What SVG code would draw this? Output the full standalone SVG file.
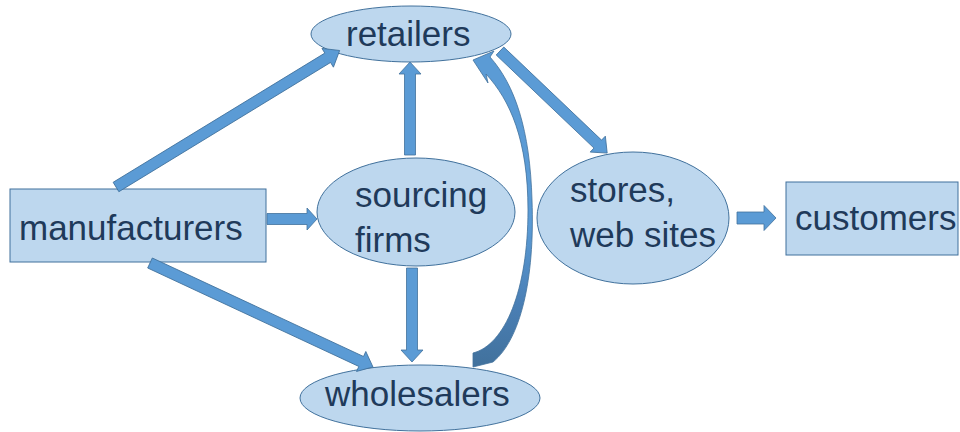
<svg xmlns="http://www.w3.org/2000/svg" width="960" height="432" viewBox="0 0 960 432">
<style>
.node{fill:#BDD7EE;stroke:#41719C;stroke-width:1}
.lbl{font-family:"Liberation Sans",Arial,sans-serif;font-size:35px;fill:#1F3A5A}
.arr{fill:#5B9BD5;stroke:#41719C;stroke-width:0.8}
</style>
<defs>
<linearGradient id="cg" x1="0" y1="0" x2="0" y2="1">
<stop offset="0" stop-color="#5B9BD5"/>
<stop offset="0.55" stop-color="#5B9BD5"/>
<stop offset="0.8" stop-color="#4A7FB5"/>
<stop offset="1" stop-color="#41719C"/>
</linearGradient>
</defs>
<rect width="960" height="432" fill="#FFFFFF"/>
<g id="retailers">
<ellipse class="node" cx="411" cy="34" rx="100" ry="28"/>
<text class="lbl" x="346" y="46">retailers</text>
</g>
<g id="sourcing">
<ellipse class="node" cx="416" cy="212" rx="99" ry="54"/>
<text class="lbl" x="355" y="207">sourcing</text>
<text class="lbl" x="355" y="252">firms</text>
</g>
<g id="wholesalers">
<ellipse class="node" cx="420" cy="398" rx="120" ry="33"/>
<text class="lbl" x="325" y="406">wholesalers</text>
</g>
<g id="stores">
<ellipse class="node" cx="633" cy="218" rx="96" ry="66"/>
<text class="lbl" x="570" y="202">stores,</text>
<text class="lbl" x="570" y="247">web sites</text>
</g>
<g id="manufacturers">
<rect class="node" x="10" y="189" width="256" height="73"/>
<text class="lbl" x="19" y="240">manufacturers</text>
</g>
<g id="customers">
<rect class="node" x="786" y="182" width="172" height="73"/>
<text class="lbl" x="795" y="230">customers</text>
</g>
<g id="connectors">
<polygon class="arr" points="0,-5.5 248,-5.5 248,-11 262,0 248,11 248,5.5 0,5.5" transform="translate(116,187) rotate(-31.4)"/>
<polygon class="arr" points="0,-5.5 81,-5.5 81,-11 93,0 81,11 81,5.5 0,5.5" transform="translate(410,155) rotate(-90)"/>
<polygon class="arr" points="0,-5.5 40,-5.5 40,-11 50,0 40,11 40,5.5 0,5.5" transform="translate(267,219)"/>
<polygon class="arr" points="0,-5.5 233,-5.5 233,-11 246,0 233,11 233,5.5 0,5.5" transform="translate(150,263) rotate(25)"/>
<polygon class="arr" points="0,-5.5 82,-5.5 82,-11 94,0 82,11 82,5.5 0,5.5" transform="translate(412,268) rotate(90)"/>
<polygon class="arr" points="0,-5.5 135,-5.5 135,-11 148,0 135,11 135,5.5 0,5.5" transform="translate(500,51) rotate(43.6)"/>
<polygon class="arr" points="0,-6 27,-6 27,-12.5 39,0 27,12.5 27,6 0,6" transform="translate(737,218)"/>
<path fill="url(#cg)" stroke="#41719C" stroke-width="0.8" d="M473,367 L473,353 C505,345 528,290 528,210 C528,140 510,100 486,74 L488,83 L473,60 L494,51 L490,57 C515,85 530,130 532,200 C535,280 520,340 493,362 Z"/>
</g>
</svg>
